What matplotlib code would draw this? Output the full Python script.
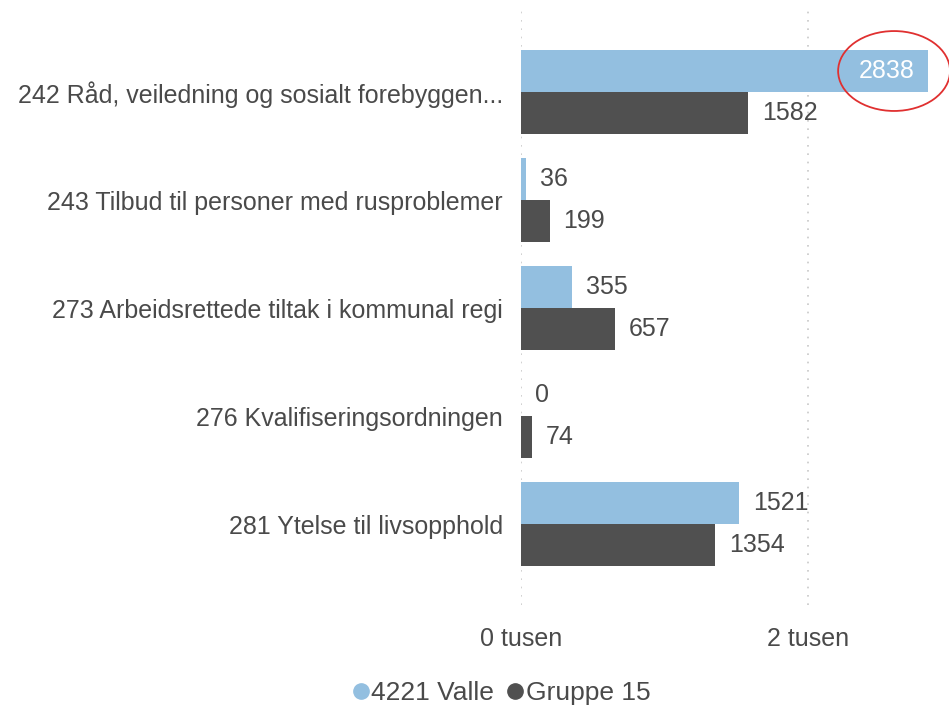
import matplotlib
matplotlib.use('Agg')
import matplotlib.pyplot as plt
import numpy as np
from matplotlib.patches import Ellipse
from matplotlib.lines import Line2D

plt.rcParams['font.family'] = ['Liberation Sans', 'DejaVu Sans']

# data
categories = [
    '242 Råd, veiledning og sosialt forebyggen...',
    '243 Tilbud til personer med rusproblemer',
    '273 Arbeidsrettede tiltak i kommunal regi',
    '276 Kvalifiseringsordningen',
    '281 Ytelse til livsopphold',
]
valle = [2838, 36, 355, 0, 1521]
gruppe15 = [1582, 199, 657, 74, 1354]
series_names = ['4221 Valle', 'Gruppe 15']
xticks = [0, 2000]
xtick_labels = ['0 tusen', '2 tusen']

light = '#93bfe0'
dark = '#505050'
txt = '#4a4a4a'
fs = 18

fig = plt.figure(figsize=(9.49, 7.11), dpi=100)
ax = fig.add_axes([521 / 949, 1 - 605 / 711, 419 / 949, 595 / 711])

y = np.arange(len(categories))
h = 0.39
ax.barh(y - h / 2, valle, height=h, color=light)
ax.barh(y + h / 2, gruppe15, height=h, color=dark)

ax.set_xlim(0, 2920)
ax.set_ylim(4.75, -0.76)

# verdi-etiketter
for i, v in enumerate(valle):
    if v > 2500:
        ax.annotate(str(v), (v, y[i] - h / 2), xytext=(-10, 0), textcoords='offset points',
                    ha='right', va='center', fontsize=fs, color='white')
    else:
        ax.annotate(str(v), (v, y[i] - h / 2), xytext=(10, 0), textcoords='offset points',
                    ha='left', va='center', fontsize=fs, color=txt)
for i, v in enumerate(gruppe15):
    ax.annotate(str(v), (v, y[i] + h / 2), xytext=(10, 0), textcoords='offset points',
                ha='left', va='center', fontsize=fs, color=txt)

# rød ring rundt 2838
ax.add_patch(Ellipse((2600, y[0] - h / 2), 780, 0.74, fill=False, edgecolor='#e03030',
                     linewidth=1.3, clip_on=False))

ax.set_yticks(y)
ax.set_yticklabels(categories, fontsize=fs, color=txt)
ax.set_xticks(xticks)
ax.set_xticklabels(xtick_labels, fontsize=fs, color=txt)
ax.tick_params(axis='y', length=0, pad=13)
ax.tick_params(axis='x', length=0, pad=16)
for s in ax.spines.values():
    s.set_visible(False)
ax.grid(axis='x', linestyle=(0, (1, 4)), color='#c8c8c8', linewidth=1.2)
ax.set_axisbelow(True)

handles = [Line2D([], [], marker='o', linestyle='', color=light, markersize=11),
           Line2D([], [], marker='o', linestyle='', color=dark, markersize=11)]
fig.legend(handles, series_names, loc='center', bbox_to_anchor=(0.527, 0.025), ncol=2,
           frameon=False, fontsize=fs + 1, handletextpad=0.0, columnspacing=0.4,
           handlelength=0.8, labelcolor=txt)

fig.savefig('out.png', dpi=100)
